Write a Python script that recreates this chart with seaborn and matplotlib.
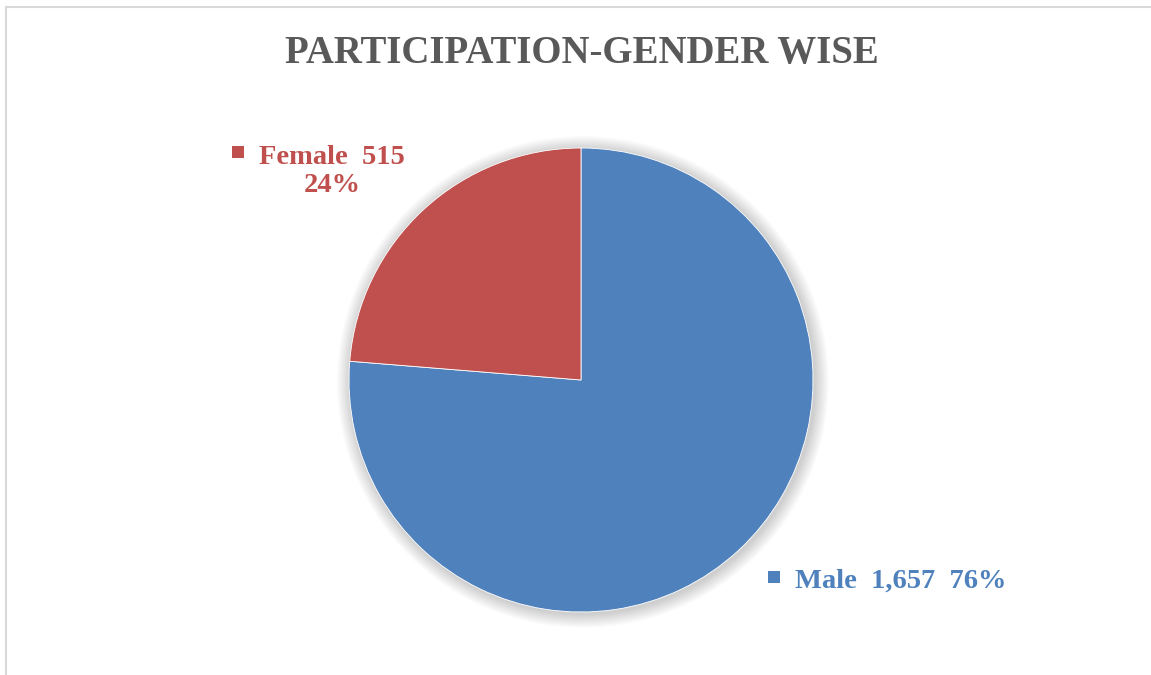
import matplotlib
matplotlib.use("Agg")
import matplotlib.pyplot as plt
import seaborn as sns
from matplotlib.patches import Rectangle, Circle
from matplotlib.lines import Line2D

# ---- data ----
categories = ["Male", "Female"]
counts = [1657, 515]
colors = ["#4F81BD", "#C0504D"]
title_text = "PARTICIPATION-GENDER WISE"

sns.set_theme(style="white")
plt.rcParams["font.family"] = ["Liberation Serif", "DejaVu Serif"]

W, H = 1151, 675
fig = plt.figure(figsize=(W / 100, H / 100), dpi=100)
fig.patch.set_facecolor("white")

def fx(x):
    return x / W

def fy(y):
    return 1 - y / H

# pie axes: center (581, 380) px, radius 232 px
cx, cy, r = 581, 380, 232
ax = fig.add_axes([fx(cx - r), fy(cy + r), 2 * r / W, 2 * r / H])

# soft shadow
for i in range(12):
    ax.add_patch(Circle((0.008, -0.008), 1.0 + 0.005 * (i + 1), color="black",
                        alpha=0.014, lw=0, zorder=0, clip_on=False))

total = sum(counts)
wedges, _ = ax.pie(counts, colors=colors, startangle=90, counterclock=False,
                   wedgeprops=dict(edgecolor="white", linewidth=0.6), radius=1.0)
for w in wedges:
    w.set_zorder(2)
ax.set_xlim(-1, 1)
ax.set_ylim(-1, 1)
ax.set_aspect("auto")
ax.axis("off")

# title
fig.text(fx(582), fy(53), title_text, ha="center", va="center",
         fontsize=28, fontweight="bold", color="#595959")

# labels
pcts = [c / total for c in counts]
male_lbl = f"{categories[0]}  {counts[0]:,}  {pcts[0]:.0%}"
fem_lbl = f"{categories[1]}  {counts[1]:,}\n{pcts[1]:.0%}"

fig.text(fx(795), fy(588), male_lbl, ha="left", va="baseline",
         fontsize=20.5, fontweight="bold", color=colors[0])
fig.text(fx(332), fy(192), fem_lbl, ha="center", va="baseline",
         fontsize=20.5, fontweight="bold", color=colors[1],
         multialignment="center", linespacing=1.15)

# legend-key squares
fig.add_artist(Rectangle((fx(768), fy(583)), 12 / W, 12 / H, transform=fig.transFigure,
                         color=colors[0], lw=0))
fig.add_artist(Rectangle((fx(232), fy(158)), 12 / W, 12 / H, transform=fig.transFigure,
                         color=colors[1], lw=0))

# chart border (partially cropped)
fig.add_artist(Line2D([fx(6), fx(6)], [0, fy(7)], transform=fig.transFigure,
                      color="#D9D9D9", lw=1.5))
fig.add_artist(Line2D([fx(6), 1], [fy(7), fy(7)], transform=fig.transFigure,
                      color="#D9D9D9", lw=1.5))

fig.savefig("out.png", dpi=100, facecolor="white")
